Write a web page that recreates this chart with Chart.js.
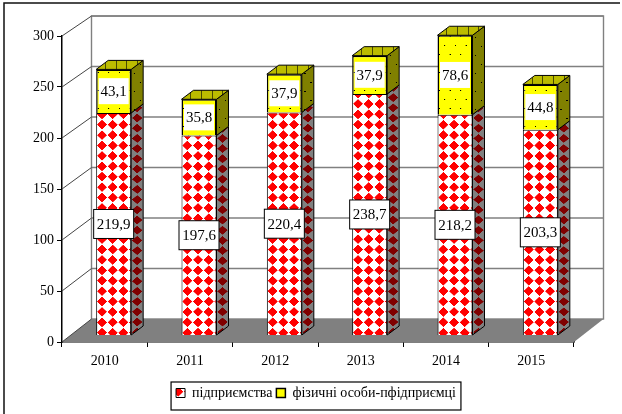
<!DOCTYPE html>
<html><head><meta charset="utf-8">
<style>html,body{margin:0;padding:0;background:#fff}canvas{display:block}</style>
<script src="https://cdn.jsdelivr.net/npm/chart.js@4"></script>
</head><body><canvas id="c" width="622" height="414"></canvas>
<script>
const categories = ['2010','2011','2012','2013','2014','2015'];
const enterprises = [219.9,197.6,220.4,238.7,218.2,203.3];
const individuals = [43.1,35.8,37.9,37.9,78.6,44.8];
const seriesNames = ['підприємства','фізичні особи-пфідприємці'];
const yTicks = [0,50,100,150,200,250,300];

const SHIFT_X = 9, SHIFT_Y = -7, DEPTH_X = 12, DEPTH_Y = -9, WALL_X = 29.5, WALL_Y = -23;
const SERIF = '"Liberation Serif","Times New Roman",serif';

function tile(w, h, draw) {
  const t = document.createElement('canvas'); t.width = w; t.height = h;
  const g = t.getContext('2d'); draw(g, w, h);
  return document.createElement('canvas').getContext('2d').createPattern(t, 'repeat');
}
function diamondTile(bg, fg, rad) {
  return tile(44, 44, (g) => {
    g.fillStyle = bg; g.fillRect(0,0,44,44);
    g.fillStyle = fg; g.beginPath();
    g.moveTo(22,22-rad); g.lineTo(22+rad,22); g.lineTo(22,22+rad); g.lineTo(22-rad,22); g.closePath(); g.fill();
  });
}
function dotTile(bg) {
  return tile(44, 44, (g) => {
    g.fillStyle = bg; g.fillRect(0,0,44,44);
    g.fillStyle = '#000';
    g.fillRect(9,9,5,3); g.fillRect(31,31,5,3);
  });
}
const redFront = diamondTile('#ffffff', '#ff0000', 20.5);
redFront.setTransform(new DOMMatrix([10.667/44,0,0,10.4/44,7.67-22*10.667/44,6.9-22*10.4/44]));
const yellowFront = dotTile('#ffff00');
yellowFront.setTransform(new DOMMatrix([10.667/44,0,0,18/44,1,3]));
const redSide = diamondTile('#808080', '#800000', 19);
const yellowSide = dotTile('#808000');
const topLines = tile(44, 44, (g) => {
  g.fillStyle = '#bcbc00'; g.fillRect(0,0,44,44);
  g.fillStyle = '#4a4a00'; g.fillRect(20,0,4,44);
});

const scene = {
  id: 'scene',
  beforeDraw(chart) {
    const c = chart.ctx;
    c.save(); c.strokeStyle = '#111'; c.lineWidth = 1.5; c.beginPath();
    c.moveTo(4,414); c.lineTo(4,3); c.lineTo(620,3); c.stroke(); c.restore();
  },
  beforeDatasetsDraw(chart) {
    const c = chart.ctx, a = chart.chartArea, yF = chart.scales.y, yB = chart.scales.yBars;
    const backY = v => yB.getPixelForValue(v) + WALL_Y;
    const bl = a.left + WALL_X, br = a.right + WALL_X;
    c.save();
    c.fillStyle = '#808080'; c.beginPath();
    c.moveTo(a.left, a.bottom); c.lineTo(a.right, a.bottom);
    c.lineTo(br, backY(0)); c.lineTo(bl, backY(0)); c.closePath(); c.fill();
    c.strokeStyle = '#808080'; c.lineWidth = 1.4;
    c.strokeRect(bl, backY(300), br-bl, backY(0)-backY(300));
    yTicks.forEach(v => {
      if (v > 0) { c.beginPath(); c.moveTo(bl, backY(v)); c.lineTo(br, backY(v)); c.stroke(); }
    });
    c.strokeStyle = '#444'; c.lineWidth = 1;
    yTicks.forEach(v => {
      c.beginPath(); c.moveTo(a.left, yF.getPixelForValue(v)); c.lineTo(bl, backY(v)); c.stroke();
    });
    const poly = (pts, fill) => {
      c.beginPath(); pts.forEach((p,i)=> i?c.lineTo(p[0],p[1]):c.moveTo(p[0],p[1])); c.closePath();
      c.fillStyle = fill; c.fill(); c.strokeStyle='#000'; c.lineWidth=1; c.stroke();
    };
    const m0 = chart.getDatasetMeta(0).data, m1 = chart.getDatasetMeta(1).data;
    categories.forEach((_, i) => {
      [m0[i], m1[i]].forEach((el, k) => {
        const r = el.x + el.width/2 + SHIFT_X, l = el.x - el.width/2 + SHIFT_X;
        const t = el.y + SHIFT_Y, b = el.base + SHIFT_Y;
        const side = k === 0 ? redSide : yellowSide;
        const ax = DEPTH_X/44, dy = (k === 0 ? 10.2 : 18)/44;
        const cy = k === 0 ? 322 : 60;
        side.setTransform(new DOMMatrix([ax,0,0,dy, r+6-ax*22, cy-dy*22]));
        poly([[r,b],[r+DEPTH_X,b+DEPTH_Y],[r+DEPTH_X,t+DEPTH_Y],[r,t]], side);
        if (k === 1) {
          topLines.setTransform(new DOMMatrix([10.667/44,0,0,1,l+4,0]));
          poly([[l,t],[l+DEPTH_X,t+DEPTH_Y],[r+DEPTH_X,t+DEPTH_Y],[r,t]], topLines);
        }
      });
    });
    c.restore();
    c.save(); c.translate(SHIFT_X, SHIFT_Y);
  },
  afterDatasetsDraw(chart) {
    const c = chart.ctx;
    c.restore();
    c.save();
    c.font = '15px ' + SERIF; c.textAlign = 'center'; c.textBaseline = 'middle';
    chart.data.datasets.forEach((ds, k) => {
      chart.getDatasetMeta(k).data.forEach((el, i) => {
        const x = el.x + SHIFT_X, y = (el.y + el.base)/2 + SHIFT_Y;
        const w = k === 0 ? 40 : 30, h = k === 0 ? 29 : 26;
        c.fillStyle = '#fff'; c.fillRect(x-w/2, y-h/2, w, h);
        if (k === 0) { c.strokeStyle='#000'; c.lineWidth=1; c.strokeRect(x-w/2, y-h/2, w, h); }
        c.fillStyle = '#000';
        c.fillText(String(ds.data[i]).replace('.', ','), x, y+1);
      });
    });
    c.restore();
  },
  afterDraw(chart) {
    const lg = chart.legend, c = chart.ctx;
    if (!lg || !lg.legendHitBoxes.length) return;
    const hb = lg.legendHitBoxes, last = hb[hb.length-1];
    c.save(); c.strokeStyle='#000'; c.lineWidth=1.2;
    c.strokeRect(hb[0].left-5, lg.top, last.left+last.width+5-(hb[0].left-5), lg.height);
    c.restore();
  }
};

new Chart(document.getElementById('c'), {
  type: 'bar',
  data: {
    labels: categories,
    datasets: [
      { label: seriesNames[0], data: enterprises, yAxisID:'yBars', backgroundColor: redFront, borderColor:'#000', borderWidth:1, clip:false, barPercentage:0.41, categoryPercentage:1 },
      { label: seriesNames[1], data: individuals, yAxisID:'yBars', backgroundColor: yellowFront, borderColor:'#000', borderWidth:1.5, clip:false, barPercentage:0.41, categoryPercentage:1 }
    ]
  },
  options: {
    responsive:false, animation:false,
    layout:{ padding:{ left:10, top:36, right:0, bottom:4 } },
    plugins:{
      tooltip:{enabled:false},
      legend:{ position:'bottom', labels:{ boxWidth:9, boxHeight:9, padding:4, color:'#000', font:{family:SERIF,size:14,lineHeight:1} } }
    },
    scales:{
      x:{ stacked:true, grid:{drawOnChartArea:false,drawTicks:true,tickLength:5,tickColor:'#000'}, border:{color:'#000',width:1.5},
          ticks:{color:'#000',font:{family:SERIF,size:14},padding:6,maxRotation:0},
          afterFit(s){ s.height = 40; } },
      y:{ position:'left', min:0, max:300, afterBuildTicks(s){ s.ticks = yTicks.map(v=>({value:v})); },
          grid:{drawOnChartArea:false,drawTicks:true,tickLength:5,tickColor:'#000'}, border:{color:'#000',width:1.5},
          ticks:{color:'#000',font:{family:SERIF,size:14},padding:3},
          afterFit(s){ s.width = 52; } },
      yBars:{ position:'right', stacked:true, min:0, max:303, grid:{display:false}, border:{display:false}, ticks:{display:false},
          afterFit(s){ s.width = 48; } }
    }
  },
  plugins:[scene]
});
</script></body></html>
